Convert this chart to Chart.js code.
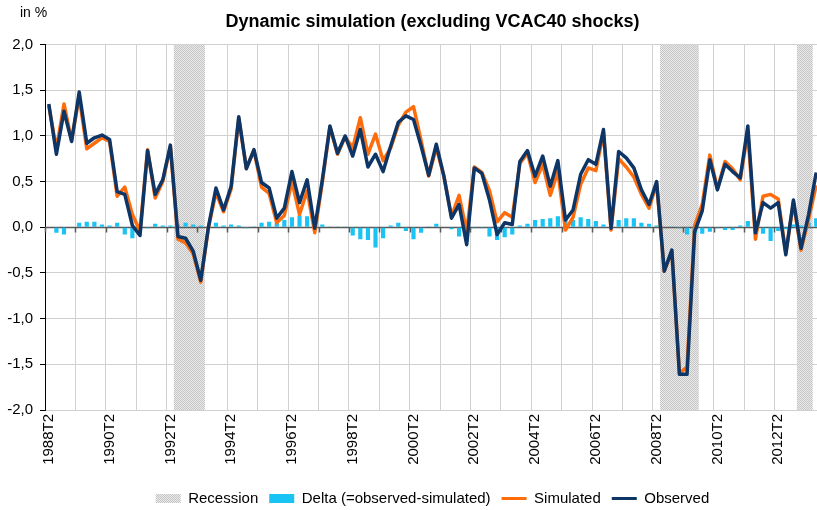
<!DOCTYPE html>
<html>
<head>
<meta charset="utf-8">
<script src="https://cdn.jsdelivr.net/npm/chart.js@4.4.1/dist/chart.umd.min.js"></script>
<style>
    html, body { margin: 0; padding: 0; overflow: hidden; background: #fff; }
    #wrap { position: relative; width: 821px; height: 510px; }
</style>
</head>
<body>
<div id="wrap"><canvas id="chart-dynamic-sim"></canvas></div>
<script>
// quarterly categories, 1988T2 .. 2013T3
const firstYear = 1988;
const firstQuarter = 2;
const quarterCount = 102;
const quarters = [];
for (let i = 0; i < quarterCount; i++) {
    const n = firstQuarter - 1 + i;
    quarters.push(`${firstYear + Math.floor(n / 4)}T${(n % 4) + 1}`);
}

const recessionQuarters = [
    '1992T3', '1992T4', '1993T1', '1993T2',
    '2008T3', '2008T4', '2009T1', '2009T2', '2009T3',
    '2013T1', '2013T2',
];

const observed = [
    1.35, 0.80, 1.27, 0.94, 1.48, 0.92, 0.98, 1.01, 0.96, 0.39,
    0.36, 0.02, -0.09, 0.84, 0.36, 0.52, 0.90, -0.10, -0.12, -0.26,
    -0.58, 0.00, 0.43, 0.19, 0.45, 1.21, 0.64, 0.85, 0.49, 0.43,
    0.10, 0.21, 0.61, 0.27, 0.52, -0.01, 0.52, 1.11, 0.81, 1.00,
    0.78, 1.07, 0.66, 0.80, 0.61, 0.89, 1.15, 1.22, 1.18, 0.89,
    0.57, 0.91, 0.56, 0.10, 0.25, -0.19, 0.65, 0.59, 0.30, -0.08,
    0.05, 0.03, 0.72, 0.84, 0.56, 0.78, 0.45, 0.73, 0.08, 0.19,
    0.58, 0.74, 0.69, 1.07, -0.01, 0.83, 0.76, 0.65, 0.41, 0.25,
    0.50, -0.48, -0.25, -1.61, -1.61, -0.05, 0.18, 0.74, 0.41, 0.69,
    0.61, 0.54, 1.11, -0.06, 0.27, 0.21, 0.27, -0.30, 0.30, -0.23,
    0.14, 0.60,
];

const simulated = [
    1.33, 0.86, 1.35, 0.95, 1.43, 0.86, 0.92, 0.98, 0.94, 0.34,
    0.44, 0.14, -0.04, 0.85, 0.32, 0.50, 0.88, -0.13, -0.17, -0.29,
    -0.60, -0.01, 0.38, 0.17, 0.42, 1.19, 0.65, 0.84, 0.44, 0.37,
    0.05, 0.13, 0.50, 0.14, 0.40, -0.06, 0.49, 1.10, 0.80, 0.99,
    0.87, 1.20, 0.80, 1.02, 0.73, 0.87, 1.12, 1.26, 1.32, 0.95,
    0.56, 0.87, 0.56, 0.12, 0.35, -0.05, 0.66, 0.60, 0.40, 0.06,
    0.16, 0.11, 0.70, 0.81, 0.49, 0.69, 0.35, 0.61, -0.03, 0.11,
    0.47, 0.65, 0.62, 1.04, -0.03, 0.75, 0.66, 0.55, 0.36, 0.21,
    0.48, -0.48, -0.26, -1.60, -1.53, 0.02, 0.25, 0.79, 0.42, 0.72,
    0.64, 0.52, 1.04, -0.13, 0.34, 0.36, 0.31, -0.28, 0.27, -0.25,
    0.09, 0.46,
];

const delta = [
    0.00, -0.06, -0.08, 0.00, 0.05, 0.06, 0.06, 0.03, 0.02, 0.05,
    -0.08, -0.12, -0.05, -0.01, 0.04, 0.02, 0.02, 0.03, 0.05, 0.03,
    0.02, 0.01, 0.05, 0.02, 0.03, 0.02, -0.01, 0.01, 0.05, 0.06,
    0.05, 0.08, 0.11, 0.13, 0.12, 0.05, 0.03, 0.01, 0.01, 0.01,
    -0.09, -0.13, -0.14, -0.22, -0.12, 0.02, 0.05, -0.04, -0.13, -0.06,
    0.01, 0.04, 0.00, -0.02, -0.10, -0.15, -0.01, -0.01, -0.10, -0.14,
    -0.11, -0.08, 0.02, 0.04, 0.08, 0.09, 0.10, 0.12, 0.11, 0.08,
    0.11, 0.09, 0.07, 0.03, 0.02, 0.08, 0.10, 0.10, 0.05, 0.04,
    0.02, 0.00, 0.01, -0.01, -0.08, -0.07, -0.07, -0.05, -0.01, -0.03,
    -0.03, 0.02, 0.07, 0.07, -0.07, -0.15, -0.04, -0.02, 0.03, 0.02,
    0.05, 0.10,
];

const yMin = -2;
const yMax = 2;

// light grey dotted fill used by Excel for the recession bands
function makeHatch() {
    const c = document.createElement('canvas');
    c.width = 2;
    c.height = 2;
    const g = c.getContext('2d');
    g.fillStyle = '#ebebeb';
    g.fillRect(0, 0, 2, 2);
    g.fillStyle = '#c4c4c4';
    g.fillRect(0, 0, 1, 1);
    g.fillRect(1, 1, 1, 1);
    return g.createPattern(c, 'repeat');
}

// zero axis with its small tick marks, drawn over the recession bands
const zeroAxisPlugin = {
    id: 'zeroAxis',
    afterDatasetDraw(chart, args) {
        if (args.index !== 0) return;
        const { ctx, chartArea, scales: { x, y } } = chart;
        const y0 = Math.round(y.getPixelForValue(0)) + 0.5;
        const half = (x.getPixelForValue(1) - x.getPixelForValue(0)) / 2;
        ctx.save();
        ctx.strokeStyle = '#595959';
        ctx.lineWidth = 1.5;
        ctx.beginPath();
        ctx.moveTo(chartArea.left, y0);
        ctx.lineTo(chartArea.right, y0);
        quarters.forEach((q, i) => {
            if (i % 4 !== 0) return;
            const px = Math.round(x.getPixelForValue(i) - half) + 0.5;
            ctx.moveTo(px, y0);
            ctx.lineTo(px, y0 + 5);
        });
        ctx.stroke();
        ctx.restore();
    },
    afterDraw(chart) {
        const ctx = chart.ctx;
        ctx.save();
        ctx.fillStyle = '#000';
        ctx.font = '14px "Liberation Sans", Arial, sans-serif';
        ctx.textBaseline = 'middle';
        ctx.fillText('in %', 20, 13);
        ctx.restore();
    },
};

function createDynamicSimChart() {
    const canvas = document.getElementById('chart-dynamic-sim');
    if (!canvas) return;

    Chart.defaults.font.family = '"Liberation Sans", Arial, sans-serif';
    Chart.defaults.color = '#000';

    try {
        const ctx = canvas.getContext('2d');
        const hatch = makeHatch();
        const recessionData = quarters.map(q => (recessionQuarters.includes(q) ? [yMin, yMax] : null));

        new Chart(ctx, {
            type: 'bar',
            data: {
                labels: quarters,
                datasets: [
                    {
                        label: 'Recession',
                        data: recessionData,
                        backgroundColor: hatch,
                        borderWidth: 0,
                        grouped: false,
                        barPercentage: 1,
                        categoryPercentage: 1,
                        order: 4,
                    },
                    {
                        label: 'Delta (=observed-simulated)',
                        data: delta,
                        backgroundColor: '#19c3f3',
                        borderWidth: 0,
                        grouped: false,
                        barPercentage: 0.55,
                        categoryPercentage: 1,
                        order: 3,
                    },
                    {
                        type: 'line',
                        label: 'Simulated',
                        data: simulated,
                        borderColor: '#ff6c0c',
                        backgroundColor: '#ff6c0c',
                        borderWidth: 3.5,
                        borderJoinStyle: 'round',
                        pointRadius: 0,
                        tension: 0,
                        order: 2,
                    },
                    {
                        type: 'line',
                        label: 'Observed',
                        data: observed,
                        borderColor: '#0d3566',
                        backgroundColor: '#0d3566',
                        borderWidth: 3.5,
                        borderJoinStyle: 'round',
                        pointRadius: 0,
                        tension: 0,
                        order: 1,
                    },
                ],
            },
            plugins: [zeroAxisPlugin],
            options: {
                responsive: true,
                maintainAspectRatio: false,
                animation: false,
                layout: { padding: { top: 0, right: 1, bottom: -6, left: 0 } },
                plugins: {
                    tooltip: { enabled: false },
                    title: {
                        display: true,
                        fullSize: false,
                        text: 'Dynamic simulation (excluding VCAC40 shocks)',
                        color: '#000',
                        font: { size: 18, weight: 'bold' },
                        padding: { top: 11, bottom: 12 },
                    },
                    legend: {
                        position: 'bottom',
                        fullSize: false,
                        labels: {
                            color: '#000',
                            font: { size: 15 },
                            usePointStyle: true,
                            pointStyleWidth: 25,
                            boxHeight: 9,
                            padding: 11,
                            generateLabels: chart => chart.data.datasets.map((ds, i) => ({
                                text: ds.label,
                                datasetIndex: i,
                                fillStyle: ds.backgroundColor,
                                strokeStyle: ds.type === 'line' ? ds.borderColor : 'rgba(0,0,0,0)',
                                lineWidth: ds.type === 'line' ? 3 : 0,
                                pointStyle: ds.type === 'line' ? 'line' : 'rect',
                                hidden: false,
                            })),
                            sort: (a, b) => a.datasetIndex - b.datasetIndex,
                        },
                    },
                },
                scales: {
                    x: {
                        afterFit: scale => {
                            scale.height = 70;
                            scale.paddingLeft = 0;
                            scale.paddingRight = 0;
                        },
                        border: { display: false },
                        grid: {
                            offset: true,
                            drawTicks: false,
                            color: c => (c.index % 4 === 0 ? '#d0d0d0' : 'rgba(0,0,0,0)'),
                        },
                        ticks: {
                            autoSkip: false,
                            minRotation: 90,
                            maxRotation: 90,
                            padding: 4,
                            color: '#000',
                            font: { size: 15 },
                            callback: (v, i) => (i % 8 === 0 ? quarters[i] : ''),
                        },
                    },
                    y: {
                        min: yMin,
                        max: yMax,
                        afterFit: scale => { scale.width = 45; },
                        border: { color: '#000', width: 1 },
                        grid: {
                            color: c => (c.tick.value === 0 ? 'rgba(0,0,0,0)' : '#d0d0d0'),
                            tickColor: '#000',
                            tickLength: 5,
                        },
                        ticks: {
                            stepSize: 0.5,
                            padding: 7,
                            color: '#000',
                            font: { size: 15 },
                            callback: v => v.toFixed(1).replace('.', ','),
                        },
                    },
                },
            },
        });
    } catch (err) {
        console.error('[DYNAMIC-SIM-CHART] FAILED:', err);
    }
}

createDynamicSimChart();
</script>
</body>
</html>
